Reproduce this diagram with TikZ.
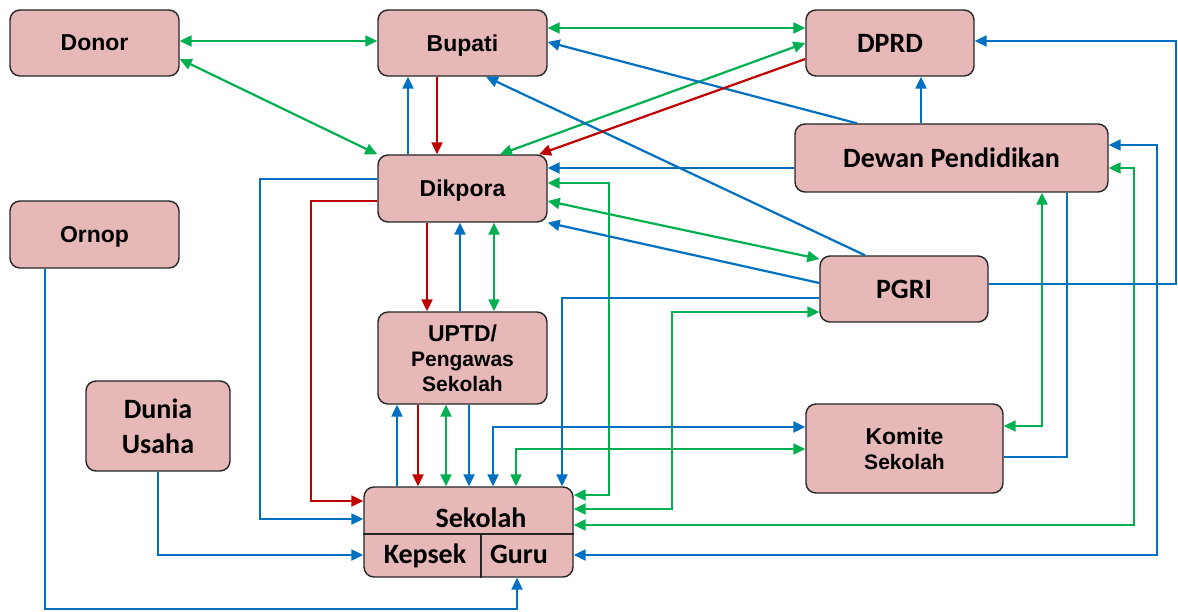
\documentclass[tikz,border=0pt]{standalone}
\usepackage{fontspec}
\usetikzlibrary{arrows.meta}
\newfontfamily\arialfont{Liberation Sans}
\newfontfamily\calibrifont{Carlito}
\definecolor{boxfill}{RGB}{230,184,183}
\definecolor{boxline}{RGB}{38,38,38}
\definecolor{lgreen}{RGB}{0,176,80}
\definecolor{lblue}{RGB}{0,112,192}
\definecolor{lred}{RGB}{192,0,0}

\begin{document}
\begin{tikzpicture}[x=1pt,y=-1pt,
  >={Triangle[length=12pt,width=11pt]},
  box/.style={draw=boxline,fill=boxfill,line width=1.4pt,rounded corners=10pt,inner sep=0pt,align=center,text depth=0pt},
  abox/.style={box,font=\arialfont\bfseries\fontsize{23}{25}\selectfont},
  asmall/.style={box,font=\arialfont\bfseries\fontsize{21}{25}\selectfont},
  cbox/.style={box,font=\calibrifont\bfseries\fontsize{28}{35}\selectfont},
  clabel/.style={anchor=base,inner sep=0pt,font=\calibrifont\bfseries\fontsize{28}{35}\selectfont},
  gline/.style={draw=lgreen,line width=2.2pt},
  bline/.style={draw=lblue,line width=2.2pt},
  rline/.style={draw=lred,line width=2.2pt}]
\path[use as bounding box] (0,0) rectangle (1178,612);
\node[abox,minimum width=169pt,minimum height=66pt] (donor) at (94.5,43) {Donor};
\node[abox,minimum width=169pt,minimum height=66pt] (bupati) at (462.5,43) {Bupati};
\node[cbox,minimum width=168pt,minimum height=66pt] (dprd) at (890,43) {DPRD};
\node[cbox,minimum width=313pt,minimum height=68pt] (dewan) at (951.5,158) {Dewan Pendidikan};
\node[abox,minimum width=169pt,minimum height=67pt] (dikpora) at (462.5,188.5) {Dikpora};
\node[abox,minimum width=169pt,minimum height=67pt] (ornop) at (94.5,234.5) {Ornop};
\node[cbox,minimum width=168pt,minimum height=66pt] (pgri) at (904,289) {PGRI};
\node[asmall,minimum width=169pt,minimum height=92pt] (uptd) at (462.5,358) {{\fontsize{23}{25}\selectfont UPTD/}\\Pengawas\\Sekolah};
\node[cbox,minimum width=144pt,minimum height=90pt] (dunia) at (158,426) {Dunia\\Usaha};
\node[asmall,minimum width=197pt,minimum height=89pt] (komite) at (904.5,448.5) {{\fontsize{23}{26}\selectfont Komite}\\Sekolah};
\node[box,minimum width=209pt,minimum height=90pt] (sekolah) at (468.5,532) {};
\draw[boxline,line width=1.4pt] (sekolah.west |- 0,534) -- (sekolah.east |- 0,534);
\draw[boxline,line width=1.4pt] (481,534) -- (sekolah.south -| 481,0);
\node[clabel] (sekolahlbl) at (481,527) {Sekolah};
\node[clabel] (kepsek) at (425,563) {Kepsek};
\node[clabel] (guru) at (519,563) {Guru};

\draw[gline,<->] (donor.east |- 0,41) -- (bupati.west |- 0,41);
\draw[gline,<->] (donor.east |- 0,59) -- (dikpora.north west);
\draw[gline,<->] (bupati.east |- 0,28) -- (dprd.west |- 0,28);
\draw[gline,<->] (dprd.west) -- (dikpora.north -| 500,0);
\draw[gline,<->] (dikpora.east |- 0,183) -| (609,495) -- (sekolah.east |- 0,495);
\draw[gline,<->] (dikpora.east |- 0,201) -- (pgri.west |- 0,259);
\draw[gline,<->] (dikpora.south -| 494,0) -- (uptd.north -| 494,0);
\draw[gline,<->] (uptd.south -| 446,0) -- (sekolah.north -| 446,0);
\draw[gline,<->] (sekolah.north -| 516,0) |- (komite.west |- 0,449);
\draw[gline,<->] (sekolah.east |- 0,509) -| (672,312) -- (pgri.west |- 0,312);
\draw[gline,<->] (sekolah.east |- 0,525) -| (1134,168) -- (dewan.east |- 0,168);
\draw[gline,<->] (komite.east |- 0,426) -| (dewan.south -| 1042,0);

\draw[bline,->] (dewan.north -| 857,0) -- (bupati.east |- 0,42);
\draw[bline,->] (pgri.north -| 865,0) -- (bupati.south -| 486,0);
\draw[bline,->] (dikpora.north -| 408,0) -- (bupati.south -| 408,0);
\draw[bline,->] (dewan.north -| 921,0) -- (dprd.south -| 921,0);
\draw[bline,->] (pgri.east |- 0,284) -| (1176,41) -- (dprd.east |- 0,41);
\draw[bline,->] (dewan.west |- 0,168) -- (dikpora.east |- 0,168);
\draw[bline,->] (pgri.west |- 0,283) -- (dikpora.south east);
\draw[bline,->] (pgri.west |- 0,298) -| (sekolah.north -| 562,0);
\draw[bline,->] (uptd.north -| 460,0) -- (dikpora.south -| 460,0);
\draw[bline,->] (sekolah.north -| 397,0) -- (uptd.south -| 397,0);
\draw[bline,->] (uptd.south -| 469,0) -- (sekolah.north -| 469,0);
\draw[bline,<->] (sekolah.north -| 493,0) |- (komite.west |- 0,427);
\draw[bline,<->] (sekolah.east |- 0,555) -| (1157,145) -- (dewan.east |- 0,145);
\draw[bline] (komite.east |- 0,457) -| (dewan.south -| 1067,0);
\draw[bline,->] (dikpora.west |- 0,179) -| (260,519) -- (sekolah.west |- 0,519);
\draw[bline,->] (dunia.south) |- (sekolah.west |- 0,555);
\draw[bline,->] (ornop.south -| 45,0) |- (517,609) -- (sekolah.south -| 517,0);

\draw[rline,->] (bupati.south -| 437,0) -- (dikpora.north -| 437,0);
\draw[rline,->] (dprd.west |- 0,59) -- (dikpora.north -| 539,0);
\draw[rline,->] (dikpora.south -| 427,0) -- (uptd.north -| 427,0);
\draw[rline,->] (uptd.south -| 418,0) -- (sekolah.north -| 418,0);
\draw[rline,->] (dikpora.west |- 0,201) -| (311,501) -- (sekolah.west |- 0,501);
\end{tikzpicture}
\end{document}
